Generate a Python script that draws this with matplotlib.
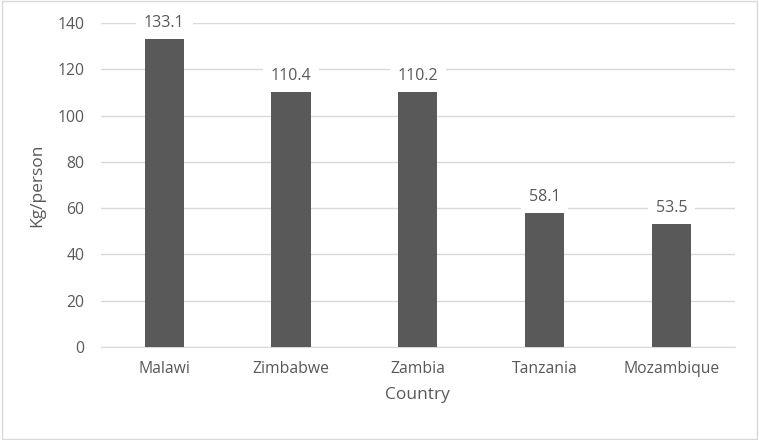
import matplotlib.pyplot as plt
from matplotlib.patches import Rectangle

countries = ["Malawi", "Zimbabwe", "Zambia", "Tanzania", "Mozambique"]
kg_per_person = [133.1, 110.4, 110.2, 58.1, 53.5]
y_ticks = [0, 20, 40, 60, 80, 100, 120, 140]

plt.rcParams['font.family'] = ['Open Sans', 'DejaVu Sans']
text_col = "#595959"

fig = plt.figure(figsize=(7.59, 4.40), dpi=100)
ax = fig.add_axes([0.133, 0.2114, 0.835, 0.7363])

x = range(len(countries))
ax.bar(x, kg_per_person, width=0.31, color="#595959", zorder=3)

# value labels on a white box, like the excel original
for xi, v in zip(x, kg_per_person):
    ax.annotate(f"{v:.1f}", (xi, v), xytext=(0, 5.5), textcoords="offset points",
                ha="center", va="bottom", fontsize=11.5, color=text_col, zorder=4,
                bbox=dict(boxstyle="square,pad=0.5", fc="white", ec="none"))

ax.set_xlim(-0.5, len(countries) - 0.5)
ax.set_ylim(0, 140)
ax.set_yticks(y_ticks)
ax.set_xticks(list(x))
ax.set_xticklabels(countries)
ax.tick_params(length=0, labelsize=11.3, labelcolor=text_col)
ax.tick_params(axis="x", pad=10)
ax.tick_params(axis="y", pad=12)
ax.yaxis.grid(True, color="#d9d9d9", lw=1, zorder=0)
for s in ["top", "right", "left"]:
    ax.spines[s].set_visible(False)
ax.spines["bottom"].set_color("#d9d9d9")
ax.spines["bottom"].set_zorder(2)

ax.set_xlabel("Country", fontsize=12.5, color=text_col, labelpad=7)
ax.set_ylabel("Kg/person", fontsize=12.5, color=text_col, labelpad=9)

fig.patches.append(Rectangle((0.002, 0.003), 0.996, 0.994, transform=fig.transFigure,
                             fill=False, ec="#d9d9d9", lw=1))

fig.savefig("out.png", dpi=100)
